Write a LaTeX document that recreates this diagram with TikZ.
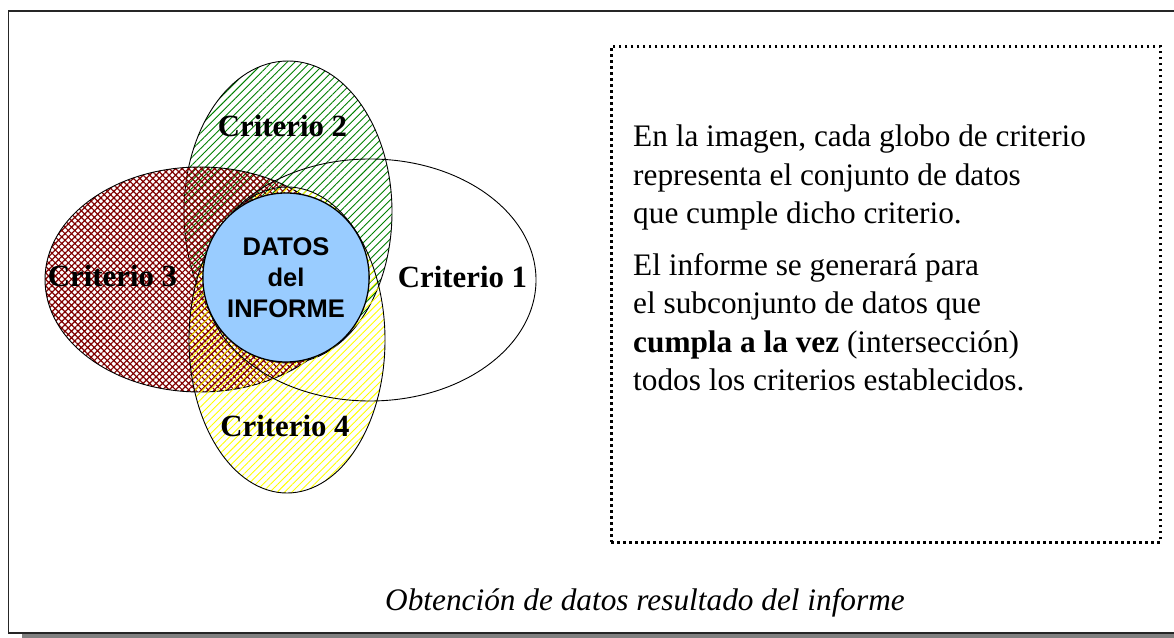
\documentclass[tikz,border=0pt]{standalone}
\usepackage{fontspec}
\setmainfont{Liberation Serif}
\newfontfamily\arialfont{Liberation Sans}
\usetikzlibrary{shapes.geometric,patterns.meta}
\definecolor{hgreen}{RGB}{0,128,0}
\definecolor{hred}{RGB}{128,0,0}
\definecolor{hyellow}{RGB}{255,255,0}
\definecolor{lblue}{RGB}{153,204,255}
\begin{document}
\begin{tikzpicture}[x=1pt,y=1pt,
  crit/.style={ellipse, draw=black, line width=0.9pt, inner sep=0pt},
  critlabel/.style={font=\fontsize{30.8}{36}\selectfont\bfseries, anchor=base, inner sep=0pt},
  dotbox/.style={draw=black, line width=2.7pt, dash pattern=on 2.7pt off 3.3pt, inner sep=0pt},
]
\useasboundingbox (0,0) rectangle (1174,637);
% frame with shadow
\fill[black!50] (22,-6) rectangle (1190,4);
\draw[line width=1.2pt, black!85, fill=white] (8.5,4) rectangle (1190,626);
% criteria ellipses
\node[crit, minimum width=208pt, minimum height=302pt,
      pattern={Lines[angle=45,distance=5.5pt,line width=0.9pt]}, pattern color=hgreen] (c2) at (288,425) {};
\node[crit, minimum width=310pt, minimum height=225pt,
      pattern={Hatch[angle=45,distance=4.6pt,line width=1.2pt]}, pattern color=hred] (c3) at (200,357.5) {};
\node[crit, minimum width=196pt, minimum height=306pt,
      pattern={Lines[angle=45,distance=5.2pt,line width=0.9pt]}, pattern color=hyellow] (c4) at (287,297) {};
\node[crit, minimum width=332pt, minimum height=242pt] (c1) at (370,357) {};
% central data
\node[ellipse, draw=black, line width=1.3pt, fill=lblue, inner sep=0pt,
      minimum width=158pt, minimum height=169pt, align=center,
      font=\arialfont\bfseries\fontsize{25.5}{31}\selectfont] (datos) at (286,359.5) {DATOS\\del\\INFORME};
% labels
\node[critlabel] (l2) at (282.5,500) {Criterio 2};
\node[critlabel] (l3) at (112.5,350) {Criterio 3};
\node[critlabel] (l1) at (462.5,349) {Criterio 1};
\node[critlabel] (l4) at (285,200) {Criterio 4};
% dotted explanation box
\node[dotbox, minimum width=549pt, minimum height=496pt, anchor=north west] (box) at (610,592) {};
\node[anchor=north west, inner sep=0pt, align=left, font=\fontsize{31.3}{38.5}\selectfont] (texto) at (633,512.4)
  {En la imagen, cada globo de criterio\\
   representa el conjunto de datos\\
   que cumple dicho criterio.\\[13pt]
   El informe se generará para\\
   el subconjunto de datos que\\
   \textbf{cumpla a la vez} (intersección)\\
   todos los criterios establecidos.};
% caption
\node[anchor=base, inner sep=0pt, font=\fontsize{31.3}{36}\selectfont\itshape] (cap) at (645,27)
  {Obtención de datos resultado del informe};
\end{tikzpicture}
\end{document}
